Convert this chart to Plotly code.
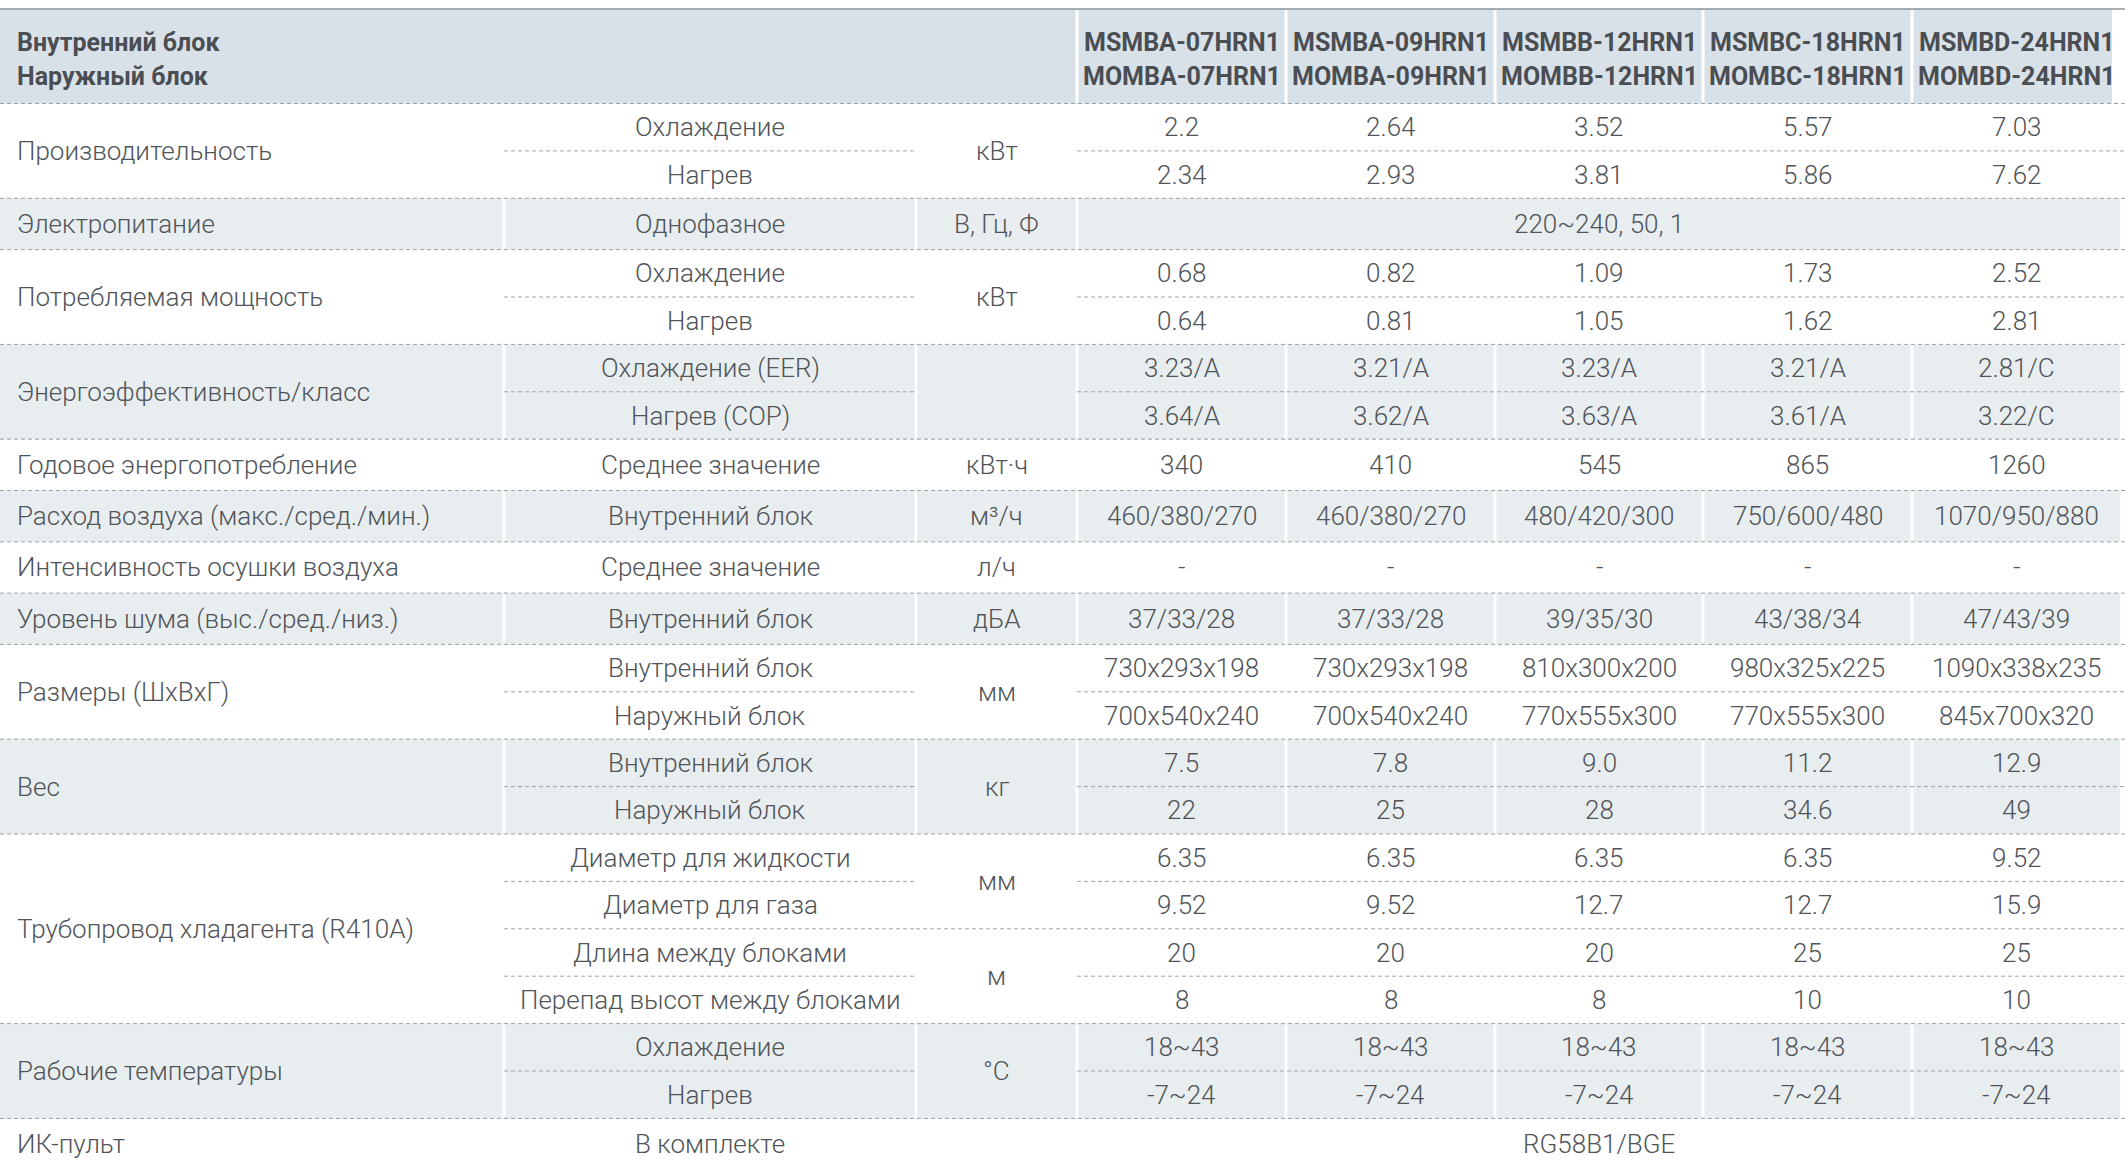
import plotly.graph_objects as go

# ---------------- data ----------------
header_left = ["Внутренний блок", "Наружный блок"]
indoor_models = ["MSMBA-07HRN1", "MSMBA-09HRN1", "MSMBB-12HRN1", "MSMBC-18HRN1", "MSMBD-24HRN1"]
outdoor_models = ["MOMBA-07HRN1", "MOMBA-09HRN1", "MOMBB-12HRN1", "MOMBC-18HRN1", "MOMBD-24HRN1"]

param_names = ["Производительность", "Электропитание", "Потребляемая мощность",
               "Энергоэффективность/класс", "Годовое энергопотребление",
               "Расход воздуха (макс./сред./мин.)", "Интенсивность осушки воздуха",
               "Уровень шума (выс./сред./низ.)", "Размеры (ШхВхГ)", "Вес",
               "Трубопровод хладагента (R410A)", "Рабочие температуры", "ИК-пульт"]

sub_labels = [["Охлаждение", "Нагрев"], ["Однофазное"], ["Охлаждение", "Нагрев"],
              ["Охлаждение (EER)", "Нагрев (COP)"], ["Среднее значение"], ["Внутренний блок"],
              ["Среднее значение"], ["Внутренний блок"], ["Внутренний блок", "Наружный блок"],
              ["Внутренний блок", "Наружный блок"],
              ["Диаметр для жидкости", "Диаметр для газа", "Длина между блоками",
               "Перепад высот между блоками"],
              ["Охлаждение", "Нагрев"], ["В комплекте"]]

unit_labels = [[("кВт", 2)], [("В, Гц, Ф", 1)], [("кВт", 2)], [("", 2)], [("кВт·ч", 1)],
               [("м³/ч", 1)], [("л/ч", 1)], [("дБА", 1)], [("мм", 2)], [("кг", 2)],
               [("мм", 2), ("м", 2)], [("°C", 2)], [("", 1)]]

cap_cool = ["2.2", "2.64", "3.52", "5.57", "7.03"]
cap_heat = ["2.34", "2.93", "3.81", "5.86", "7.62"]
power_supply = "220~240, 50, 1"
pin_cool = ["0.68", "0.82", "1.09", "1.73", "2.52"]
pin_heat = ["0.64", "0.81", "1.05", "1.62", "2.81"]
eer = ["3.23/A", "3.21/A", "3.23/A", "3.21/A", "2.81/C"]
cop = ["3.64/A", "3.62/A", "3.63/A", "3.61/A", "3.22/C"]
annual = ["340", "410", "545", "865", "1260"]
airflow = ["460/380/270", "460/380/270", "480/420/300", "750/600/480", "1070/950/880"]
dehum = ["-", "-", "-", "-", "-"]
noise = ["37/33/28", "37/33/28", "39/35/30", "43/38/34", "47/43/39"]
dim_in = ["730x293x198", "730x293x198", "810x300x200", "980x325x225", "1090x338x235"]
dim_out = ["700x540x240", "700x540x240", "770x555x300", "770x555x300", "845x700x320"]
w_in = ["7.5", "7.8", "9.0", "11.2", "12.9"]
w_out = ["22", "25", "28", "34.6", "49"]
pipe_liq = ["6.35", "6.35", "6.35", "6.35", "9.52"]
pipe_gas = ["9.52", "9.52", "12.7", "12.7", "15.9"]
pipe_len = ["20", "20", "20", "25", "25"]
pipe_h = ["8", "8", "8", "10", "10"]
t_cool = ["18~43", "18~43", "18~43", "18~43", "18~43"]
t_heat = ["-7~24", "-7~24", "-7~24", "-7~24", "-7~24"]
remote = "RG58B1/BGE"

row_values = [[cap_cool, cap_heat], [power_supply], [pin_cool, pin_heat], [eer, cop],
              [annual], [airflow], [dehum], [noise], [dim_in, dim_out], [w_in, w_out],
              [pipe_liq, pipe_gas, pipe_len, pipe_h], [t_cool, t_heat], [remote]]

# ---------------- layout constants ----------------
W, H = 2125, 1165
COLS = [0, 504, 916, 1077, 1286, 1495, 1703, 1912, 2121]
TOP_LINE = 9
HEAD_BOTTOM = 103.5
SUB_H = 47.4
SINGLE_H = 51.3
FONT = "Roboto, Liberation Sans, sans-serif"
TXT = "#505458"
HEAD_TXT = "#4a4e53"
HEAD_BG = "#d9e1e8"
ROW_BG = "#e8edf0"
DASH_COL = "#9ea3a8"
FS = 26
HFS = 25

shapes = []
annotations = []


def text(x, y, s, anchor="center", bold=False, size=FS):
    annotations.append(dict(x=x, y=y, xref="x", yref="y", text=("<b>%s</b>" % s) if bold else s,
                            showarrow=False, xanchor=anchor, yanchor="middle",
                            font=dict(family=FONT, size=size, weight=700 if bold else 300,
                                      color=HEAD_TXT if bold else TXT)))


def hline(x0, x1, y):
    shapes.append(dict(type="line", xref="x", yref="y", x0=x0, x1=x1, y0=y, y1=y,
                       line=dict(color=DASH_COL, width=1, dash="4px,3px"), layer="above"))


def vsep(x, y0, y1):
    shapes.append(dict(type="line", xref="x", yref="y", x0=x, x1=x, y0=y0 + 1, y1=y1 - 1,
                       line=dict(color="white", width=3), layer="below"))


# header
shapes.append(dict(type="rect", xref="x", yref="y", x0=0, x1=2112, y0=TOP_LINE, y1=HEAD_BOTTOM,
                   fillcolor=HEAD_BG, line=dict(width=0), layer="below"))
shapes.append(dict(type="line", xref="x", yref="y", x0=0, x1=W, y0=TOP_LINE, y1=TOP_LINE,
                   line=dict(color="#8d9399", width=1.5), layer="above"))
for cx in COLS[3:8]:
    vsep(cx, TOP_LINE, HEAD_BOTTOM)
hy1 = TOP_LINE + (HEAD_BOTTOM - TOP_LINE) * 0.355
hy2 = TOP_LINE + (HEAD_BOTTOM - TOP_LINE) * 0.715
text(15, hy1, header_left[0], anchor="left", bold=True, size=HFS)
text(15, hy2, header_left[1], anchor="left", bold=True, size=HFS)
for i in range(5):
    mx = (COLS[3 + i] + COLS[4 + i]) / 2
    text(mx, hy1, indoor_models[i], bold=True, size=HFS)
    text(mx, hy2, outdoor_models[i], bold=True, size=HFS)
hline(0, W, HEAD_BOTTOM)

# body
y = HEAD_BOTTOM
for g, name in enumerate(param_names):
    subs = sub_labels[g]
    n = len(subs)
    h = SUB_H if n > 1 else SINGLE_H
    y0, y1 = y, y + h * n
    merged = isinstance(row_values[g][0], str)
    if g % 2 == 1:
        shapes.append(dict(type="rect", xref="x", yref="y", x0=0, x1=2120, y0=y0, y1=y1,
                           fillcolor=ROW_BG, line=dict(width=0), layer="below"))
        seps = COLS[1:4] if merged else COLS[1:8]
        for cx in seps:
            vsep(cx, y0, y1)
    text(15, (y0 + y1) / 2, name, anchor="left")
    for k, sl in enumerate(subs):
        sy0 = y0 + k * h
        sy1 = sy0 + h
        cy = (sy0 + sy1) / 2
        text((COLS[1] + COLS[2]) / 2, cy, sl)
        vals = row_values[g][k]
        if isinstance(vals, str):
            text((COLS[3] + COLS[8]) / 2, cy, vals)
        else:
            for i, v in enumerate(vals):
                text((COLS[3 + i] + COLS[4 + i]) / 2, cy, v)
        if k < n - 1:
            hline(COLS[1], COLS[2], sy1)
            hline(COLS[3], W, sy1)
    uy = y0
    for ui, (u, span) in enumerate(unit_labels[g]):
        uy1 = uy + span * h
        if u:
            text((COLS[2] + COLS[3]) / 2, (uy + uy1) / 2, u)
        if ui < len(unit_labels[g]) - 1:
            hline(COLS[2], COLS[3], uy1)
        uy = uy1
    if g < len(param_names) - 1:
        hline(0, W, y1)
    y = y1

fig = go.Figure()
fig.update_layout(
    width=W, height=H,
    margin=dict(l=0, r=0, t=0, b=0),
    paper_bgcolor="white", plot_bgcolor="white",
    xaxis=dict(range=[0, W], visible=False, fixedrange=True),
    yaxis=dict(range=[H, 0], visible=False, fixedrange=True),
    shapes=shapes, annotations=annotations, showlegend=False,
)
fig.write_html("out.html", config={"displayModeBar": False},
               post_script="document.body.style.margin='0';document.body.style.overflow='hidden';")
